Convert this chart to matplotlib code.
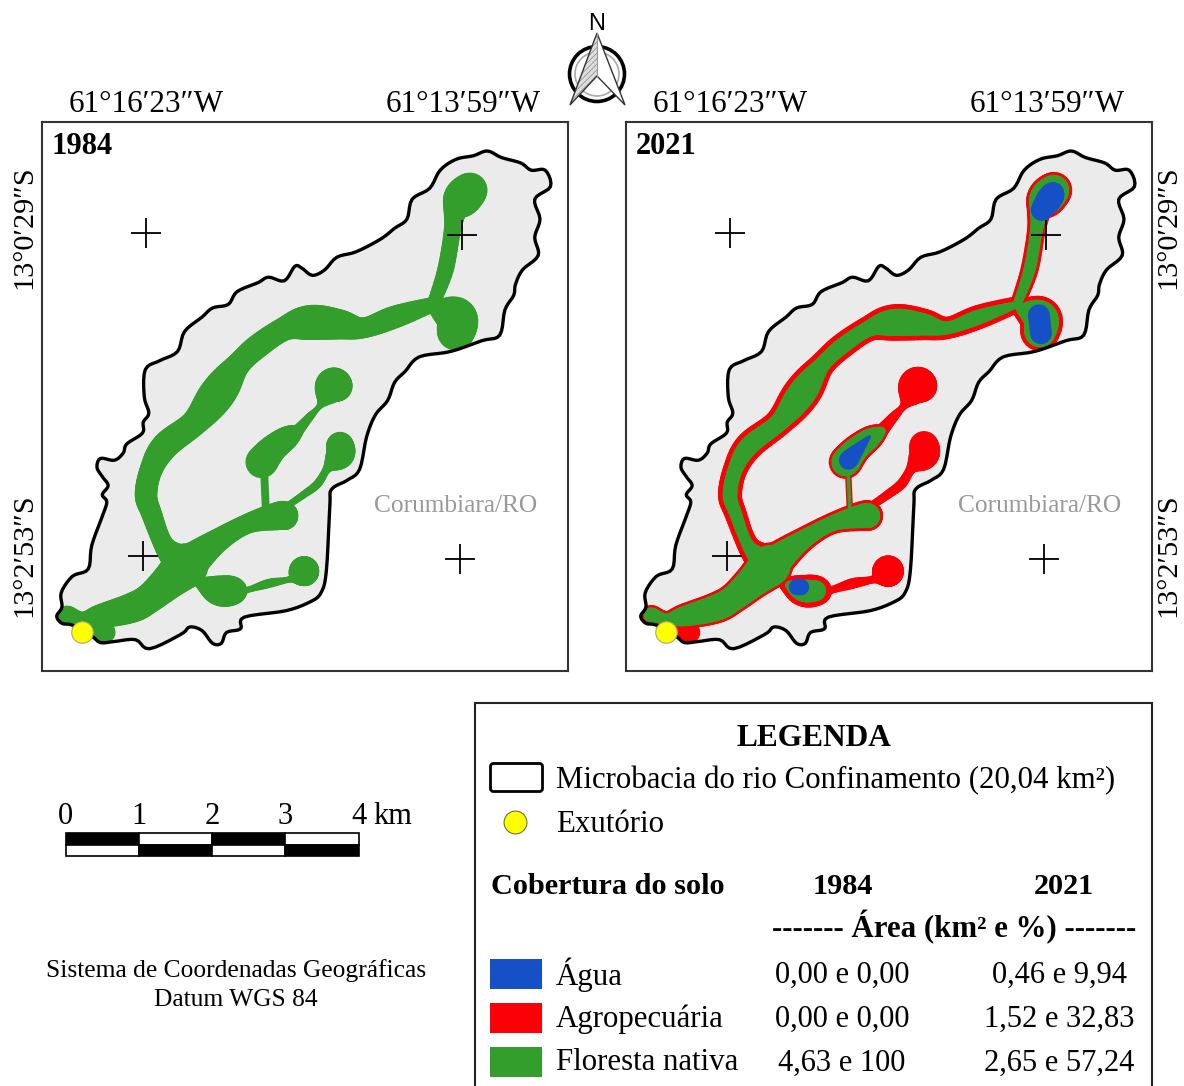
import numpy as np
import matplotlib
matplotlib.use("Agg")
import matplotlib.pyplot as plt
from matplotlib.collections import LineCollection
from matplotlib.patches import Rectangle, Polygon, Circle, FancyBboxPatch

plt.rcParams['font.family'] = ['Liberation Serif', 'DejaVu Serif']

# map geometry
basin = [(75,1395),(90,1370),(88,1330),(120,1285),(165,1265),(175,1200),(205,1120),(218,1080),(205,1060),
         (222,1035),(205,1010),(190,985),(200,960),(240,965),(265,945),(275,920),(320,890),(322,860),(338,835),
         (325,790),(328,715),(370,690),(420,665),(440,610),(490,570),(520,545),(565,535),(590,500),(650,475),
         (680,460),(725,470),(755,430),(775,435),(805,455),(840,440),(875,405),(930,390),(1000,355),(1040,325),
         (1075,300),(1090,245),(1140,215),(1170,165),(1215,135),(1265,125),(1305,112),(1345,130),(1400,145),
         (1430,165),(1470,165),(1485,210),(1440,245),(1455,300),(1440,350),(1450,400),(1405,440),(1385,480),
         (1380,510),(1355,550),(1340,620),(1290,635),(1200,665),(1110,680),(1070,720),(1040,750),(1020,800),
         (985,840),(960,900),(940,990),(905,1020),(860,1045),(855,1090),(845,1270),(830,1330),(800,1355),
         (730,1380),(610,1398),(600,1430),(560,1440),(545,1470),(520,1470),(490,1435),(455,1425),(430,1445),
         (340,1485),(300,1460),(240,1465),(200,1468),(175,1450),(120,1420),(90,1415)]

# river reaches as (x, y, width)
main_low = [(105,1392,48),(150,1402,32),(200,1395,60),(290,1372,78),(340,1345,78),(400,1295,95),(445,1255,120)]
left_limb = [(445,1255,100),(385,1205,52),(345,1110,52),(330,1060,57),(345,990,58),(385,925,70),(470,860,68),
             (535,780,95),(590,705,62),(650,650,62),(730,600,62),(800,585,92),(880,590,78),(950,600,52),
             (1040,570,58),(1150,535,35)]
head_stem = [(1150,535,30),(1185,440,40),(1205,330,42),(1215,270,62),(1235,240,100),(1255,220,92)]
head_low = [(1150,545,20),(1215,570,105),(1215,610,100)]
right_reach = [(445,1255,100),(530,1190,62),(620,1140,50),(712,1118,74),(725,1120,70)]
connector = [(672,1100,16),(668,1010,16)]
mid_blob = [(660,970,85),(690,935,72),(730,905,60),(762,885,28)]
top_reach = [(762,885,28),(795,848,18),(830,810,14),(860,760,86),(875,760,82)]
east_reach = [(735,1090,12),(780,1060,15),(820,1030,18),(850,985,20),(884,950,72),(884,925,72)]
low_reach = [(470,1290,18),(500,1310,40),(540,1325,78),(575,1325,74),(610,1325,14),(680,1305,20),
             (745,1292,14),(778,1272,72),(782,1272,76)]
outlet_bit = [(205,1435,55),(212,1440,55)]

# water bodies in 2021
water_head = [(1220,275,60),(1245,240,72),(1255,225,52)]
water_low = [(1212,565,60),(1218,615,62)]
water_top = [(873,760,24)]
water_mid = [(668,965,54),(700,930,30),(728,900,8)]
water_right = [(721,1118,48)]
water_lower = [(522,1315,50),(532,1315,42)]

top_lon = ["61°16′23″W", "61°13′59″W"]
side_lat = ["13°0′29″S", "13°2′53″S"]
years = ["1984", "2021"]
scale_km = [0, 1, 2, 3, 4]
classes = ["Água", "Agropecuária", "Floresta nativa"]
area_1984 = ["0,00 e 0,00", "0,00 e 0,00", "4,63 e 100"]
area_2021 = ["0,46 e 9,94", "1,52 e 32,83", "2,65 e 57,24"]

GREEN = "#339e2b"
RED = "#fb0007"
BLUE = "#1650c6"
PX = 1 / 2.8 * 0.72  # zoom units to points

fig = plt.figure(figsize=(11.84, 10.86), dpi=100, facecolor="white")

# page axes in pixel units for everything outside the maps
page = fig.add_axes([0, 0, 1, 1])
page.set_xlim(0, 1184)
page.set_ylim(1086, 0)
page.axis("off")


def smooth(pts, closed=False, n=8):
    # catmull-rom through the traced nodes, only to round the drawn shape
    p = np.array(pts, dtype=float)
    if len(p) < 3 and not closed:
        return p
    if closed:
        p = np.vstack([p[-1], p, p[0], p[1]])
    else:
        p = np.vstack([p[0], p, p[-1]])
    out = []
    for i in range(1, len(p) - 2):
        for t in np.arange(n) / n:
            out.append(0.5 * (2 * p[i] + (p[i + 1] - p[i - 1]) * t
                              + (2 * p[i - 1] - 5 * p[i] + 4 * p[i + 1] - p[i + 2]) * t ** 2
                              + (3 * p[i] - p[i - 1] - 3 * p[i + 1] + p[i + 2]) * t ** 3))
    out.append(p[-2])
    return np.array(out)


def reach(ax, pts, color, clip, inset=0, z=2):
    dense = smooth(pts)
    if len(dense) == 1:
        x, y, w = dense[0]
        segs = [[(x, y), (x + 0.01, y)]]
        lws = [(w - inset) * PX]
    else:
        segs, lws = [], []
        for a, b in zip(dense[:-1], dense[1:]):
            w = (a[2] + b[2]) / 2 - inset
            if w > 0:
                segs.append([a[:2], b[:2]])
                lws.append(w * PX)
    lc = LineCollection(segs, linewidths=lws, colors=color, capstyle="round", zorder=z)
    ax.add_collection(lc)
    lc.set_clip_path(clip)


def map_panel(x0, year):
    ax = fig.add_axes([x0 / 1184, 1 - 670.5 / 1086, 526 / 1184, 548.5 / 1086])
    ax.set_xlim(33, 1535)
    ax.set_ylim(1545, 32)
    ax.set_xticks([])
    ax.set_yticks([])
    ax.patch.set_alpha(0)
    for s in ax.spines.values():
        s.set_linewidth(1.5)
        s.set_color("#333333")
    outline = smooth(basin, closed=True, n=5)
    land = Polygon(outline, closed=True, fc="#ebebeb", ec="none", zorder=1)
    ax.add_patch(land)

    if year == "1984":
        for r in [main_low, left_limb, head_stem, head_low, right_reach, connector, mid_blob,
                  top_reach, east_reach, low_reach, outlet_bit]:
            reach(ax, r, GREEN, land, -6)
    else:
        for r in [main_low, left_limb, head_stem, head_low, right_reach, mid_blob,
                  top_reach, east_reach, low_reach, outlet_bit]:
            reach(ax, r, RED, land, -10)
        reach(ax, connector, RED, land, -2)
        # native forest left inside the red rim
        reach(ax, main_low, GREEN, land, 4, 3)
        reach(ax, left_limb, GREEN, land, 16, 3)
        reach(ax, head_stem, GREEN, land, 6, 3)
        reach(ax, head_low, GREEN, land, 12, 3)
        reach(ax, right_reach, GREEN, land, 6, 3)
        reach(ax, connector, GREEN, land, 6, 3)
        reach(ax, mid_blob, GREEN, land, 4, 3)
        reach(ax, low_reach[1:4], GREEN, land, 16, 3)
        reach(ax, low_reach[-1:], GREEN, land, -2, 3)
        reach(ax, low_reach[-1:], RED, land, 40, 4)
        reach(ax, [(886, 942, 8)], "#7a9a60", land, 0, 4)
        for w in [water_head, water_low, water_top, water_mid, water_right, water_lower]:
            reach(ax, w, BLUE, land, 0, 5)

    # basin outline above the fills
    ax.add_patch(Polygon(outline, closed=True, fc="none", ec="black", lw=2.4, joinstyle="round", zorder=6))
    ax.scatter([147], [1440], s=240, c="#ffff00", edgecolors="#a8a878", linewidths=0.8, zorder=7)
    ax.plot([330, 1233, 322, 1226], [338, 344, 1230, 1237], "+", color="black", ms=21, mew=1.3, zorder=8)
    ax.text(60, 100, year, fontsize=22, fontweight="bold", va="center", ha="left", zorder=9)
    ax.text(1215, 1092, "Corumbiara/RO", fontsize=18.3, color="#999999", va="center", ha="center", zorder=9)
    return ax


map_panel(42, years[0])
map_panel(626, years[1])

for off in [0, 584]:
    page.text(146 + off, 105, top_lon[0], fontsize=22.4, ha="center", va="center")
    page.text(463 + off, 105, top_lon[1], fontsize=22.4, ha="center", va="center")
for x in [24, 1168]:
    page.text(x, 227, side_lat[0], fontsize=21.8, rotation=90, ha="center", va="center")
    page.text(x, 555, side_lat[1], fontsize=21.8, rotation=90, ha="center", va="center")

# north arrow
page.add_patch(Circle((597, 74), 27.5, fc="white", ec="black", lw=2.6, zorder=3))
page.add_patch(Circle((597, 74), 22, fc="none", ec="#aaaaaa", lw=1.2, zorder=3))
plt.rcParams['hatch.linewidth'] = 0.5
page.add_patch(Polygon([(597, 33), (570, 105), (597, 76)], closed=True, fc="#dddddd", ec="#888888",
                       lw=0, hatch="//////", zorder=4))
page.add_patch(Polygon([(597, 33), (570, 105), (597, 76), (625, 105)], closed=True, fc="none", ec="#333333",
                       lw=1, zorder=5))
page.add_patch(Polygon([(597, 33), (625, 105), (597, 76)], closed=True, fc="white", ec="none", zorder=4))
page.plot([597, 597], [33, 76], color="#999999", lw=0.8, zorder=5)
page.text(597, 24, "N", family="Liberation Sans", fontsize=17, ha="center", va="center", zorder=5)

# scale bar
bar_x = np.linspace(65.5, 358.5, len(scale_km))
for i, (a, b) in enumerate(zip(bar_x[:-1], bar_x[1:])):
    up, low = ("black", "white") if i % 2 == 0 else ("white", "black")
    page.add_patch(Rectangle((a, 832.5), b - a, 12, fc=up, ec="black", lw=1.2))
    page.add_patch(Rectangle((a, 844.5), b - a, 11.5, fc=low, ec="black", lw=1.2))
for x, k in zip(bar_x, scale_km):
    page.text(x, 817, str(k), fontsize=22, ha="center", va="center")
page.text(373, 817, "km", fontsize=22, ha="left", va="center")

page.text(236, 971, "Sistema de Coordenadas Geográficas", fontsize=18.4, ha="center", va="center")
page.text(236, 1000, "Datum WGS 84", fontsize=18.4, ha="center", va="center")

# legend
page.add_patch(Rectangle((475, 703), 677, 400, fc="white", ec="#222222", lw=1.5))
page.text(814, 738, "LEGENDA", fontsize=22.6, fontweight="bold", ha="center", va="center")
page.add_patch(FancyBboxPatch((492, 765), 49, 25, boxstyle="round,pad=1.5,rounding_size=3", fc="white", ec="black", lw=2))
page.text(556, 781, "Microbacia do rio Confinamento (20,04 km²)", fontsize=22.2, ha="left", va="center")
page.scatter([515], [822], s=270, c="#ffff00", edgecolors="#707040", linewidths=0.8)
page.text(556, 825, "Exutório", fontsize=22.2, ha="left", va="center")
page.text(491, 887, "Cobertura do solo", fontsize=21.8, fontweight="bold", ha="left", va="center")
page.text(843, 887, years[0], fontsize=21.8, fontweight="bold", ha="center", va="center")
page.text(1064, 887, years[1], fontsize=21.8, fontweight="bold", ha="center", va="center")
page.text(954, 927, "------- Área (km² e %) -------", fontsize=22.2, fontweight="bold", ha="center", va="center")
for y, name, a84, a21, c in zip([974, 1018, 1062], classes, area_1984, area_2021, [BLUE, RED, GREEN]):
    page.add_patch(Rectangle((490, y - 15), 52, 30, fc=c, ec="none"))
    page.text(556, y + 1, name, fontsize=22.2, ha="left", va="center")
    page.text(842, y + 1, a84, fontsize=22, ha="center", va="center")
    page.text(1059, y + 1, a21, fontsize=22, ha="center", va="center")

fig.savefig("out.png", dpi=100)
